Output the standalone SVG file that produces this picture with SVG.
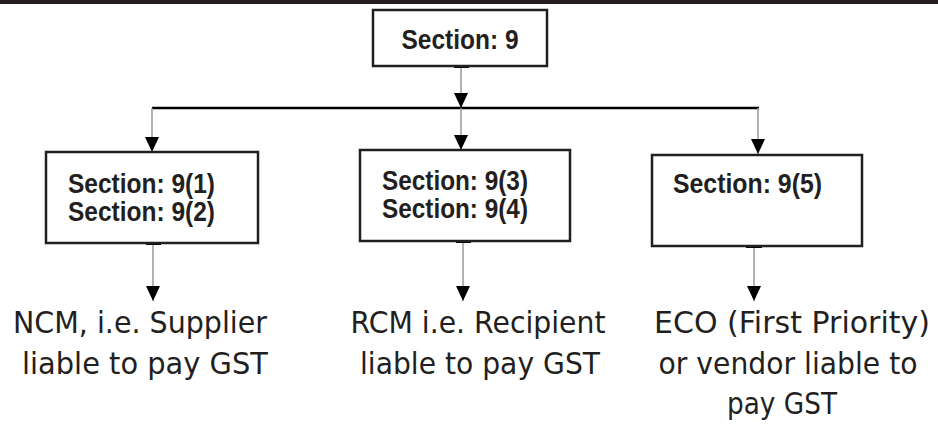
<svg xmlns="http://www.w3.org/2000/svg" width="938" height="425" viewBox="0 0 938 425">
  <style>
    .box { fill: #ffffff; stroke: #231f20; stroke-width: 2.5; }
    .sec { font-family: "Liberation Sans", Arial, sans-serif; font-weight: bold; font-size: 27px; fill: #231f20; }
    .out { font-family: "DejaVu Sans", "Noto Sans", sans-serif; font-size: 30px; fill: #231f20; }
    .wire { stroke: #9a9a9a; stroke-width: 1.5; fill: none; }
    .bus { stroke: #000000; stroke-width: 2.5; fill: none; }
    .stub { fill: #000000; }
  </style>
  <defs>
    <marker id="head" markerUnits="userSpaceOnUse" markerWidth="15" markerHeight="14" refX="15" refY="7" orient="auto" viewBox="0 0 15 14">
      <path d="M0,0 L15,7 L0,14 Z" fill="#000000"/>
    </marker>
  </defs>

  <!-- header rule -->
  <rect x="0" y="0" width="938" height="4" fill="#231f20"/>

  <!-- connectors -->
  <g id="connectors">
    <line class="wire" x1="461" y1="66" x2="461" y2="108" marker-end="url(#head)"/>
    <line class="bus" x1="152" y1="108" x2="759" y2="108"/>
    <line class="wire" x1="152" y1="108" x2="152" y2="152" marker-end="url(#head)"/>
    <line class="wire" x1="461" y1="108" x2="461" y2="150" marker-end="url(#head)"/>
    <line class="wire" x1="758" y1="108" x2="758" y2="154" marker-end="url(#head)"/>
    <line class="wire" x1="153" y1="243" x2="153" y2="301" marker-end="url(#head)"/>
    <line class="wire" x1="463" y1="241" x2="463" y2="301" marker-end="url(#head)"/>
    <line class="wire" x1="754" y1="246" x2="754" y2="301" marker-end="url(#head)"/>
    <rect class="stub" x="454" y="65" width="15" height="3"/>
    <rect class="stub" x="146" y="242" width="15" height="3"/>
    <rect class="stub" x="456" y="240" width="15" height="3"/>
    <rect class="stub" x="746" y="245" width="16" height="3"/>
  </g>

  <g id="section-9">
    <rect class="box" x="373" y="10" width="174" height="56"/>
    <text class="sec" x="460" y="49" text-anchor="middle" textLength="117" lengthAdjust="spacingAndGlyphs">Section: 9</text>
  </g>

  <g id="section-9-1-2">
    <rect class="box" x="46" y="152" width="212" height="91"/>
    <text class="sec" x="68" y="193" textLength="147" lengthAdjust="spacingAndGlyphs">Section: 9(1)</text>
    <text class="sec" x="68" y="221" textLength="147" lengthAdjust="spacingAndGlyphs">Section: 9(2)</text>
  </g>

  <g id="section-9-3-4">
    <rect class="box" x="360" y="150" width="210" height="91"/>
    <text class="sec" x="382" y="190" textLength="146" lengthAdjust="spacingAndGlyphs">Section: 9(3)</text>
    <text class="sec" x="382" y="218" textLength="146" lengthAdjust="spacingAndGlyphs">Section: 9(4)</text>
  </g>

  <g id="section-9-5">
    <rect class="box" x="652" y="155" width="210" height="91"/>
    <text class="sec" x="673" y="193" textLength="149" lengthAdjust="spacingAndGlyphs">Section: 9(5)</text>
  </g>

  <g id="ncm">
    <text class="out" x="140" y="333" text-anchor="middle" textLength="254" lengthAdjust="spacingAndGlyphs">NCM, i.e. Supplier</text>
    <text class="out" x="145" y="374" text-anchor="middle" textLength="246" lengthAdjust="spacingAndGlyphs">liable to pay GST</text>
  </g>

  <g id="rcm">
    <text class="out" x="478" y="333" text-anchor="middle" textLength="255" lengthAdjust="spacingAndGlyphs">RCM i.e. Recipient</text>
    <text class="out" x="480" y="374" text-anchor="middle" textLength="240" lengthAdjust="spacingAndGlyphs">liable to pay GST</text>
  </g>

  <g id="eco">
    <text class="out" x="792" y="333" text-anchor="middle" textLength="276" lengthAdjust="spacingAndGlyphs">ECO (First Priority)</text>
    <text class="out" x="788" y="374" text-anchor="middle" textLength="259" lengthAdjust="spacingAndGlyphs">or vendor liable to</text>
    <text class="out" x="782" y="414" text-anchor="middle" textLength="110" lengthAdjust="spacingAndGlyphs">pay GST</text>
  </g>
</svg>
